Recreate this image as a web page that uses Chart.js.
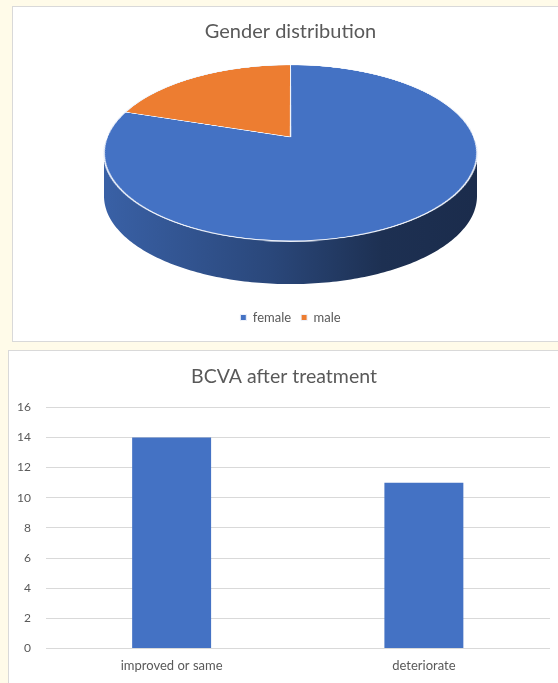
<!DOCTYPE html>
<html>
<head>
<meta charset="utf-8">
<script src="https://cdn.jsdelivr.net/npm/chart.js@4.4.1/dist/chart.umd.min.js"></script>
<style>
  html, body { margin: 0; padding: 0; background: #fffbe9; width: 558px; height: 683px; overflow: hidden; }
  .panel { position: absolute; background: #fff; border: 1px solid #d9d9d9; box-sizing: border-box; overflow: hidden; }
  #p1 { left: 12px; top: 6px; width: 560px; height: 336px; }
  #p2 { left: 8px; top: 350px; width: 560px; height: 340px; }
  canvas { position: absolute; left: 0; top: 0; }
</style>
</head>
<body>
<div class="panel" id="p1"><canvas id="pie" width="545" height="333"></canvas></div>
<div class="panel" id="p2"><canvas id="bars" width="549" height="332"></canvas></div>
<script>
// data
const genderLabels = ["female", "male"];
const genderCounts = [20, 5];
const genderColors = ["#4472c4", "#ed7d31"];

const bcvaLabels = ["improved or same", "deteriorate"];
const bcvaCounts = [14, 11];
const bcvaTickMax = 16;
const bcvaTickStep = 2;

const textColor = "#595959";
const fontFamily = "Lato, 'Open Sans', sans-serif";

// darken a #rrggbb colour by factor f
const shade = (hex, f) => {
  const n = parseInt(hex.slice(1), 16);
  const r = Math.round(((n >> 16) & 255) * f);
  const g = Math.round(((n >> 8) & 255) * f);
  const b = Math.round((n & 255) * f);
  return `rgb(${r},${g},${b})`;
};

// draws the pie as a tilted disc with a side wall (Excel style 3-D pie)
const pie3d = {
  id: "pie3d",
  beforeDatasetsDraw(chart, args, opts) {
    const arcs = chart.getDatasetMeta(0).data;
    if (!arcs.length) return;
    const area = chart.chartArea;
    const ctx = chart.ctx;
    const a = opts.perspective;
    const k = (area.right - area.left) / 2 * Math.sqrt(1 - a * a);
    const m = k * opts.tilt;
    const depth = k * opts.depth;
    const cx = (area.left + area.right) / 2;
    const y0 = area.top + m / (1 + a);
    const project = (u, v) => {
      const w = 1 + a * v;
      return [cx + k * u / w, y0 - m * v / w];
    };

    // side wall, only the front half shows
    const p1 = Math.asin(a), p2 = Math.PI - Math.asin(a);
    arcs.forEach(arc => {
      const { startAngle, endAngle } = arc.getProps(["startAngle", "endAngle"]);
      [-2 * Math.PI, 0, 2 * Math.PI].forEach(shift => {
        const s = Math.max(startAngle + shift, p1);
        const e = Math.min(endAngle + shift, p2);
        if (e <= s) return;
        const steps = Math.max(2, Math.ceil((e - s) * 60));
        const pts = [];
        for (let j = 0; j <= steps; j++) {
          const phi = s + (e - s) * j / steps;
          pts.push(project(Math.cos(phi), -Math.sin(phi)));
        }
        ctx.beginPath();
        pts.forEach(([x, y], j) => j ? ctx.lineTo(x, y) : ctx.moveTo(x, y));
        for (let j = pts.length - 1; j >= 0; j--) ctx.lineTo(pts[j][0], pts[j][1] + depth);
        ctx.closePath();
        const col = arc.options.backgroundColor;
        const g = ctx.createLinearGradient(cx - k, 0, cx + k, 0);
        g.addColorStop(0, shade(col, 0.84));
        g.addColorStop(0.45, shade(col, 0.62));
        g.addColorStop(0.75, shade(col, 0.42));
        g.addColorStop(1, shade(col, 0.39));
        ctx.fillStyle = g;
        ctx.fill();
      });
    });

    // top face: let the arcs draw flat, then squeeze rows into perspective
    const S = 2;
    const off = document.createElement("canvas");
    off.width = chart.width * S;
    off.height = chart.height * S;
    const octx = off.getContext("2d");
    octx.scale(S, S);
    arcs.forEach(arc => arc.draw(octx));
    const { x: ax, y: ay, outerRadius: R } = arcs[0].getProps(["x", "y", "outerRadius"]);

    const vAt = Y => { const t = (y0 - Y) / m; return t / (1 - a * t); };
    const yTop = Math.floor(y0 - m / (1 + a));
    const yBot = Math.ceil(y0 + m / (1 - a));
    ctx.save();
    ctx.imageSmoothingEnabled = true;
    for (let Y = yTop; Y < yBot; Y++) {
      const v1 = Math.min(1, vAt(Y));
      const v2 = Math.max(-1, vAt(Y + 1));
      if (v1 <= v2) continue;
      const w = 1 + a * vAt(Y + 0.5);
      const half = k / w;
      ctx.drawImage(off, (ax - R) * S, (ay - v1 * R) * S, 2 * R * S, (v1 - v2) * R * S,
        cx - half, Y, 2 * half, 1);
    }
    ctx.restore();
    return false;
  }
};

new Chart(document.getElementById("pie"), {
  type: "pie",
  data: {
    labels: genderLabels,
    datasets: [{
      data: genderCounts,
      backgroundColor: genderColors,
      borderColor: "#eef2fa",
      borderWidth: 1
    }]
  },
  options: {
    responsive: false,
    animation: false,
    layout: { padding: { left: 91, right: 81, top: 0, bottom: 6 } },
    plugins: {
      title: {
        display: true,
        text: "Gender distribution",
        color: textColor,
        font: { family: fontFamily, size: 20, weight: "normal" },
        padding: { top: 13, bottom: 21 }
      },
      legend: {
        position: "bottom",
        labels: {
          usePointStyle: true,
          pointStyle: "rect",
          boxWidth: 6,
          boxHeight: 6,
          padding: 10,
          color: textColor,
          font: { family: fontFamily, size: 13 }
        }
      },
      tooltip: { enabled: false },
      pie3d: { perspective: 0.182, tilt: 0.464, depth: 0.235 }
    }
  },
  plugins: [pie3d]
});

new Chart(document.getElementById("bars"), {
  type: "bar",
  data: {
    labels: bcvaLabels,
    datasets: [{
      data: bcvaCounts,
      backgroundColor: "#4472c4",
      barPercentage: 0.313,
      categoryPercentage: 1
    }]
  },
  options: {
    responsive: false,
    animation: false,
    layout: { padding: { left: 9, right: 8, top: 0, bottom: 9 } },
    plugins: {
      legend: { display: false },
      tooltip: { enabled: false },
      title: {
        display: true,
        text: "BCVA after treatment",
        color: textColor,
        font: { family: fontFamily, size: 19.5, weight: "normal" },
        padding: { top: 14.3, bottom: 18.6 }
      }
    },
    scales: {
      x: {
        grid: { display: false, drawTicks: false },
        border: { display: false },
        ticks: { color: textColor, font: { family: fontFamily, size: 13 }, padding: 9.9 },
        afterFit: scale => { scale.height = 25.5; }
      },
      y: {
        min: 0,
        max: bcvaTickMax,
        grid: { color: "#d9d9d9", drawTicks: false },
        border: { display: false },
        ticks: { stepSize: bcvaTickStep, color: textColor, font: { family: fontFamily, size: 12 }, padding: 14.5 },
        afterFit: scale => { scale.width = 27.5; }
      }
    }
  }
});
</script>
</body>
</html>
